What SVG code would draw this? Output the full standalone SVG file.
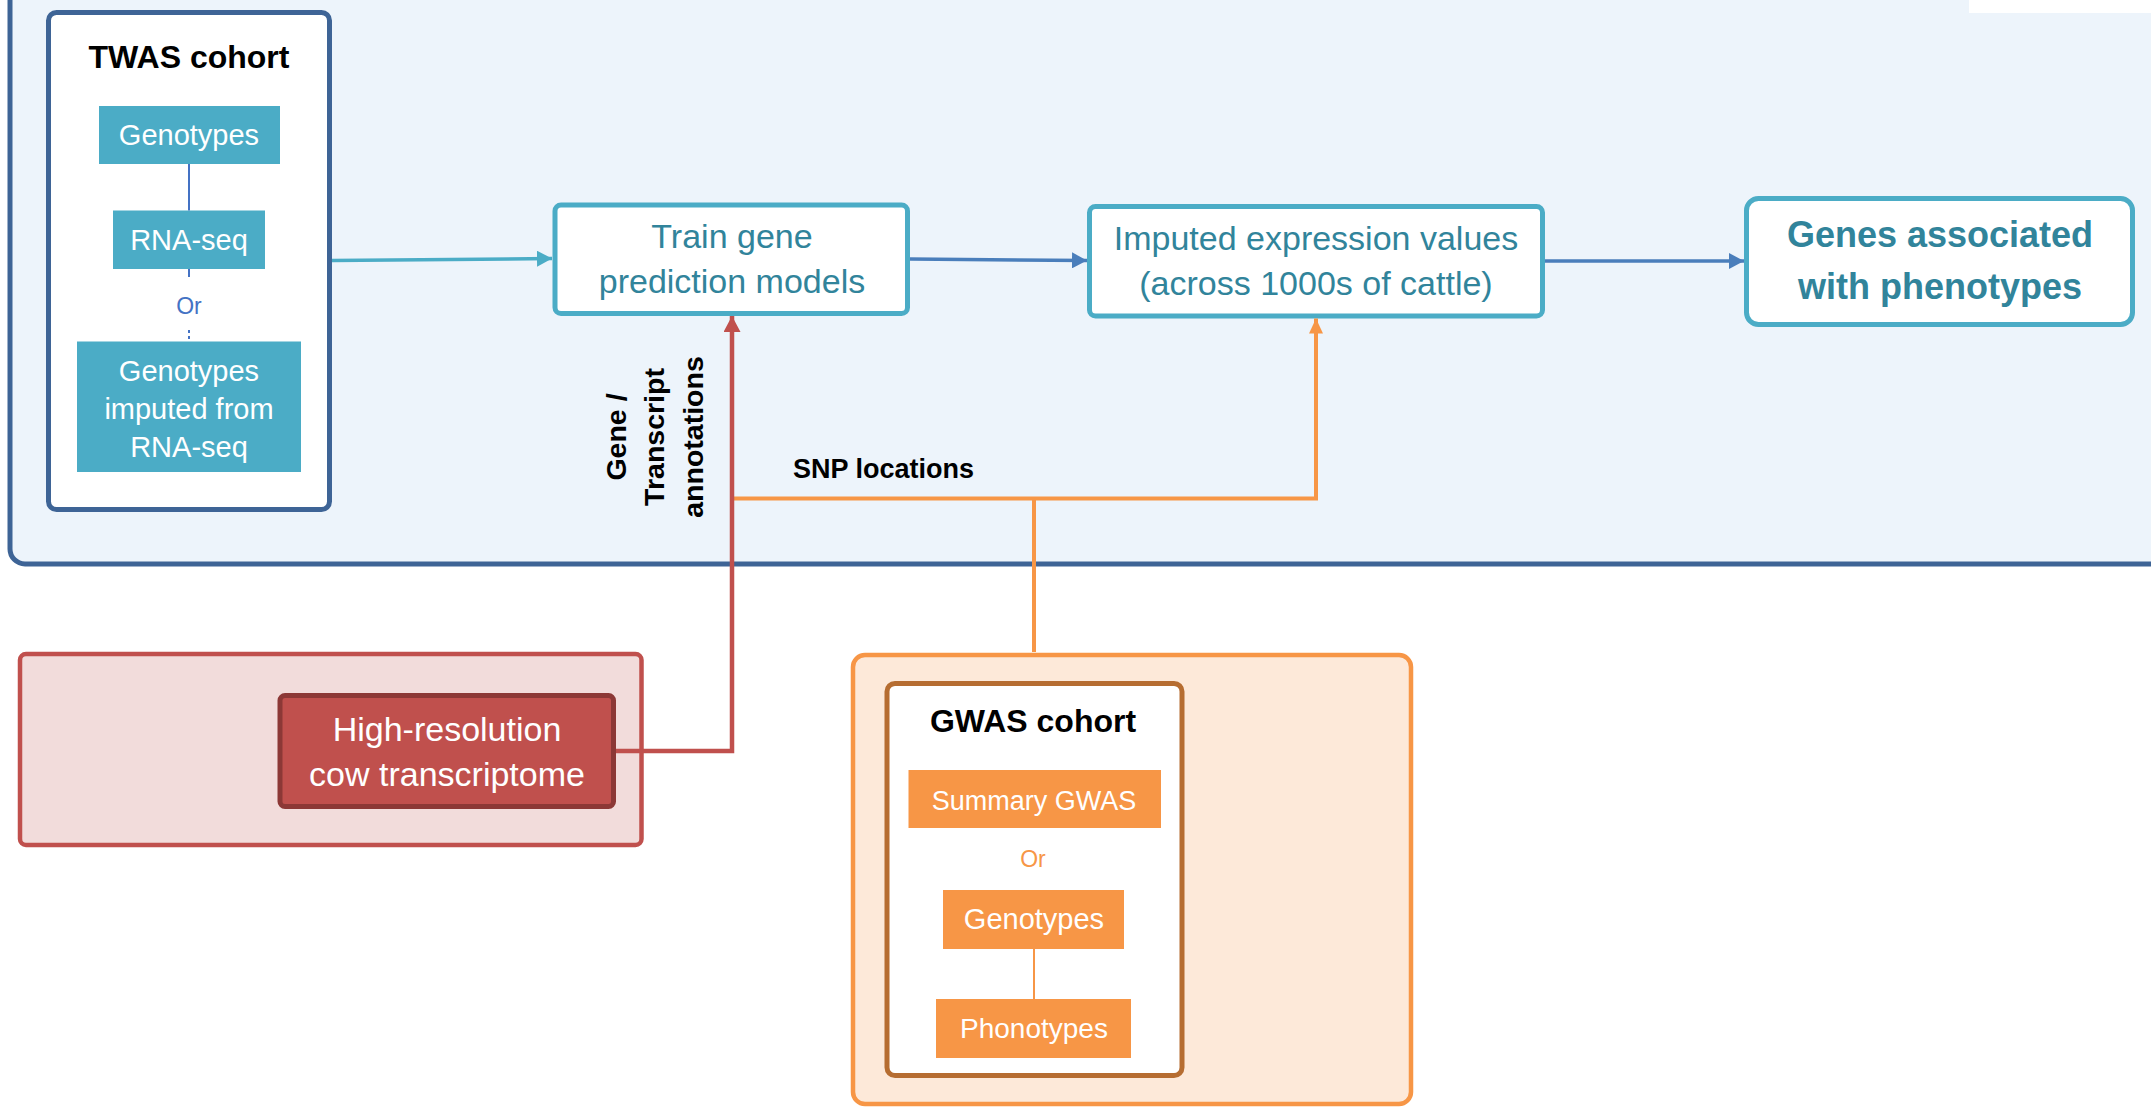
<svg xmlns="http://www.w3.org/2000/svg" width="2151" height="1110" viewBox="0 0 2151 1110">
  <style>
    text { font-family: "Liberation Sans", Arial, sans-serif; }
    .cohort { fill: #ffffff; stroke-width: 5; }
    .title { font-size: 32px; font-weight: bold; fill: #000000; text-anchor: middle; }
    .tealbox { fill: #4BACC6; }
    .orbox { fill: #F79646; }
    .wt { font-size: 29px; fill: #ffffff; text-anchor: middle; }
    .flow { fill: #ffffff; stroke: #4BACC6; stroke-width: 5; }
    .ft { font-size: 34px; fill: #31849B; text-anchor: middle; }
    .lbl { font-size: 28.5px; font-weight: bold; fill: #000000; text-anchor: middle; }
    .conn { fill: none; }
  </style>
  <defs>
    <marker id="ahTeal" markerUnits="userSpaceOnUse" markerWidth="16" markerHeight="16" refX="15" refY="8" orient="auto">
      <path d="M0,0 L15,8 L0,16 z" fill="#4BACC6"/>
    </marker>
    <marker id="ahBlue" markerUnits="userSpaceOnUse" markerWidth="16" markerHeight="16" refX="15" refY="8" orient="auto">
      <path d="M0,0 L15,8 L0,16 z" fill="#4A7EBB"/>
    </marker>
    <marker id="ahRed" markerUnits="userSpaceOnUse" markerWidth="17" markerHeight="18" refX="16" refY="8.5" orient="auto">
      <path d="M0,0 L16,8.5 L0,17 z" fill="#C0504D"/>
    </marker>
    <marker id="ahOrange" markerUnits="userSpaceOnUse" markerWidth="16" markerHeight="16" refX="15" refY="7" orient="auto">
      <path d="M0,0 L15,7 L0,14 z" fill="#F79646"/>
    </marker>
  </defs>

  <rect x="0" y="0" width="2151" height="1110" fill="#ffffff"/>

  <!-- TWAS area container -->
  <g id="twas-area">
    <rect x="10" y="-40" width="2200" height="604" rx="15" fill="#EDF4FB" stroke="#3E6496" stroke-width="5"/>
    <rect x="1969" y="0" width="182" height="13" fill="#ffffff"/>
  </g>

  <!-- TWAS cohort -->
  <g id="twas-cohort">
    <rect class="cohort" x="48.5" y="12.5" width="281" height="497" rx="8" stroke="#3E6496"/>
    <text class="title" x="189" y="68">TWAS cohort</text>
  </g>
  <g id="twas-genotypes">
    <rect class="tealbox" x="99" y="106" width="181" height="58"/>
    <text class="wt" x="189" y="145">Genotypes</text>
  </g>
  <g id="twas-rnaseq">
    <rect class="tealbox" x="113" y="210.5" width="152" height="58.5"/>
    <text class="wt" x="189" y="250">RNA-seq</text>
  </g>
  <g id="twas-imputed">
    <rect class="tealbox" x="77" y="341.5" width="224" height="130.5"/>
    <text class="wt" x="189" y="381">Genotypes</text>
    <text class="wt" x="189" y="419">imputed from</text>
    <text class="wt" x="189" y="457">RNA-seq</text>
  </g>

  <!-- Flow boxes -->
  <g id="train">
    <rect class="flow" x="555" y="205" width="352.5" height="108.5" rx="6"/>
    <text class="ft" x="732" y="248">Train gene</text>
    <text class="ft" x="732" y="293">prediction models</text>
  </g>
  <g id="imputed-expression">
    <rect class="flow" x="1089.5" y="206.5" width="453" height="109.5" rx="6"/>
    <text class="ft" x="1316" y="250">Imputed expression values</text>
    <text class="ft" x="1316" y="295">(across 1000s of cattle)</text>
  </g>
  <g id="genes-associated">
    <rect class="flow" x="1746.5" y="198.5" width="386" height="126" rx="12"/>
    <text class="ft" x="1940" y="247" style="font-weight:bold;font-size:36px">Genes associated</text>
    <text class="ft" x="1940" y="299" style="font-weight:bold;font-size:36px">with phenotypes</text>
  </g>

  <!-- Transcriptome -->
  <g id="transcriptome-area">
    <rect x="20" y="654" width="621.5" height="191" rx="6" fill="#F2DCDB" stroke="#C0504D" stroke-width="4.5"/>
  </g>
  <g id="transcriptome">
    <rect x="280" y="695.5" width="333.5" height="111" rx="5" fill="#C0504D" stroke="#8C3836" stroke-width="5"/>
    <text class="wt" x="447" y="741" style="font-size:34px">High-resolution</text>
    <text class="wt" x="447" y="786" style="font-size:34px">cow transcriptome</text>
  </g>

  <!-- GWAS -->
  <g id="gwas-area">
    <rect x="853" y="655" width="558" height="449" rx="12" fill="#FDE9D9" stroke="#F79646" stroke-width="4.5"/>
  </g>
  <g id="gwas-cohort">
    <rect class="cohort" x="887" y="683.5" width="295" height="392" rx="8" stroke="#B66D31"/>
    <text class="title" x="1033" y="732">GWAS cohort</text>
  </g>
  <g id="gwas-summary">
    <rect class="orbox" x="908.5" y="770" width="252.5" height="58"/>
    <text class="wt" x="1034" y="810" style="font-size:27px">Summary GWAS</text>
  </g>
  <g id="gwas-genotypes">
    <rect class="orbox" x="943" y="890" width="181" height="59"/>
    <text class="wt" x="1034" y="929">Genotypes</text>
  </g>
  <g id="gwas-phenotypes">
    <rect class="orbox" x="936" y="999" width="195" height="59"/>
    <text class="wt" x="1034" y="1038" style="font-size:28px">Phonotypes</text>
  </g>

  <!-- Connectors -->
  <g id="connectors" class="conn">
    <line x1="189" y1="164" x2="189" y2="210.5" stroke="#4472C4" stroke-width="2"/>
    <line x1="189" y1="269" x2="189" y2="277" stroke="#4472C4" stroke-width="2"/>
    <line x1="189" y1="330" x2="189" y2="341.5" stroke="#4472C4" stroke-width="2" stroke-dasharray="3,3"/>
    <text x="189" y="314" style="font-size:23px;fill:#4472C4;text-anchor:middle">Or</text>

    <line x1="1034" y1="949" x2="1034" y2="999" stroke="#F79646" stroke-width="2"/>
    <text x="1033" y="867" style="font-size:23px;fill:#F79646;text-anchor:middle">Or</text>

    <path d="M332,260.5 L552,258.5" stroke="#4BACC6" stroke-width="3.5" marker-end="url(#ahTeal)"/>
    <path d="M910,259 L1087,260.5" stroke="#4A7EBB" stroke-width="3.5" marker-end="url(#ahBlue)"/>
    <path d="M1545,261 L1744,261" stroke="#4A7EBB" stroke-width="3.5" marker-end="url(#ahBlue)"/>

    <path d="M1034,652 V498.5" stroke="#F79646" stroke-width="4"/>
    <path d="M733,498.5 H1316 V318.5" stroke="#F79646" stroke-width="4" marker-end="url(#ahOrange)"/>
    <path d="M616,751 H732 V316" stroke="#C0504D" stroke-width="4.5" marker-end="url(#ahRed)"/>

    <text class="lbl" transform="translate(626,437) rotate(-90)">Gene /</text>
    <text class="lbl" transform="translate(664,437) rotate(-90)">Transcript</text>
    <text class="lbl" transform="translate(703,437) rotate(-90)">annotations</text>
    <text x="793" y="478" style="font-size:27px;font-weight:bold;fill:#000000">SNP locations</text>
  </g>
</svg>
